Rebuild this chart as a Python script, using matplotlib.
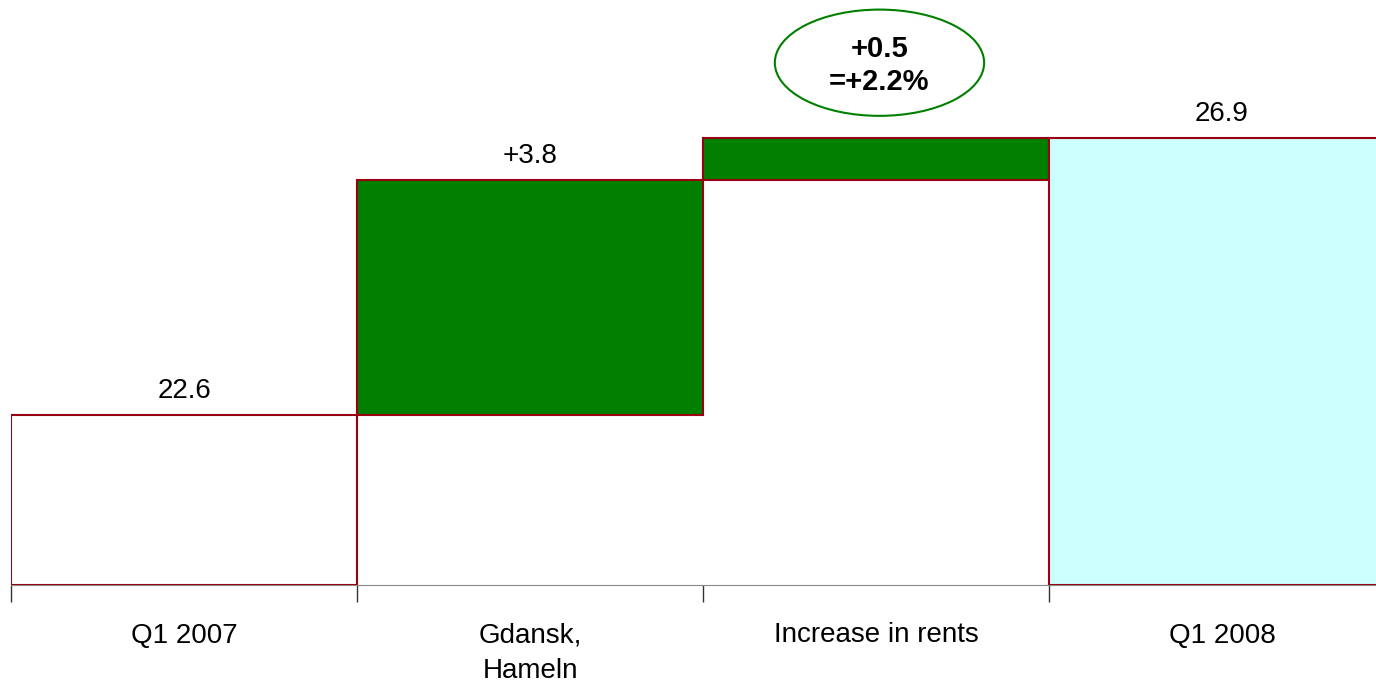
import matplotlib.pyplot as plt
from matplotlib.patches import Ellipse

plt.rcParams['font.family'] = ['Liberation Sans', 'DejaVu Sans']

categories = ['Q1 2007', 'Gdansk,\nHameln', 'Increase in rents', 'Q1 2008']
start = 22.6
steps = [3.65, 0.65]          # step heights as drawn
total = 26.9
value_labels = ['22.6', '+3.8', '', '26.9']
note = '+0.5\n=+2.2%'

edge = '#990012'
green = '#007F00'
cyan = '#CCFFFF'
base = 19.96

fig = plt.figure(figsize=(13.76, 6.82), dpi=100)
ax = fig.add_axes([11 / 1376, 97 / 682, 1365 / 1376, 585 / 682])

# bars: first and last from base, steps floating
bottoms = [base, start, start + steps[0], base]
heights = [start - base, steps[0], steps[1], total - base]
colors = ['white', green, green, cyan]
x = range(len(categories))
ax.bar(x, heights, bottom=bottoms, width=1.0, color=colors,
       edgecolor=edge, linewidth=1.5, zorder=3)

for i, lab in enumerate(value_labels):
    if lab:
        top = bottoms[i] + heights[i]
        ax.text(i, top + 0.17, lab, ha='center', va='bottom', fontsize=20)

# ellipse callout above the rents step
ax.add_patch(Ellipse((2.01, 28.07), 0.605, 1.65, facecolor='white',
                     edgecolor=green, linewidth=1.5, zorder=4))
ax.text(2.01, 28.03, note, ha='center', va='center', fontsize=21,
        fontweight='bold', linespacing=1.22, zorder=5)

ax.set_xlim(-0.5, 3.445)
ax.set_ylim(base, base + 585 / 64.4)

ax.set_xticks([-0.5, 0.5, 1.5, 2.5])
ax.set_xticklabels([])
ax.set_xticks(list(x), minor=True)
ax.set_xticklabels(categories, minor=True, fontsize=20, linespacing=1.45)
ax.tick_params(axis='x', which='major', direction='out', length=12,
               color='#333333', width=1)
ax.tick_params(axis='x', which='minor', length=0, pad=27)
ax.set_yticks([])
for s in ['top', 'right', 'left']:
    ax.spines[s].set_visible(False)
ax.spines['bottom'].set_color('#888888')

fig.savefig('out.png', dpi=100)
